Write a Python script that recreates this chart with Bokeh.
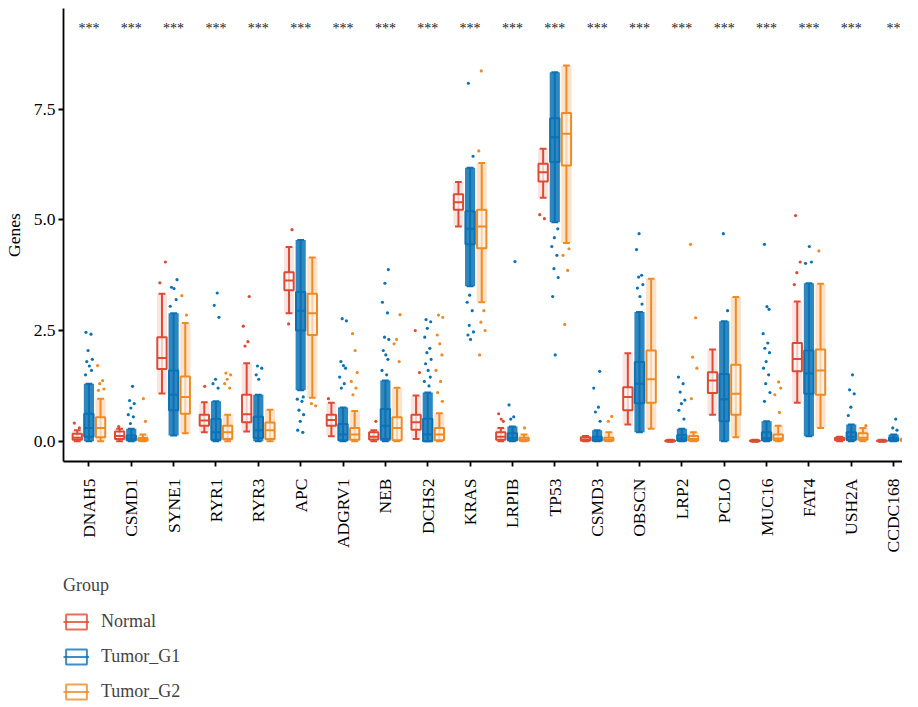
import math
from bokeh.plotting import figure
from bokeh.layouts import column
from bokeh.models import (Range1d, FixedTicker, PrintfTickFormatter, Legend,
                          LegendItem, ColumnDataSource)
from bokeh.core.properties import value
from bokeh.embed import file_html
from bokeh.resources import INLINE

# ---------------- data ----------------
genes = ["DNAH5", "CSMD1", "SYNE1", "RYR1", "RYR3", "APC", "ADGRV1", "NEB",
         "DCHS2", "KRAS", "LRPIB", "TP53", "CSMD3", "OBSCN", "LRP2", "PCLO",
         "MUC16", "FAT4", "USH2A", "CCDC168"]
signif = ["***"] * 19 + ["**"]
groups = ["Normal", "Tumor_G1", "Tumor_G2"]
colors = ["#DE4A33", "#0B72B5", "#EF8A25"]
y_ticks = [0.0, 2.5, 5.0, 7.5]

# Normal: lower whisker, Q1, median, Q3, upper whisker
normal_lo  = [0.00, 0.00, 1.08, 0.20, 0.22, 2.89, 0.11, 0.00, 0.05, 4.85, 0.00, 5.50, 0.00, 0.38, -0.01, 0.60, -0.01, 0.87, 0.00, -0.01]
normal_q1  = [0.03, 0.05, 1.63, 0.35, 0.43, 3.41, 0.35, 0.04, 0.26, 5.23, 0.03, 5.87, 0.01, 0.70, 0.00, 1.09, 0.00, 1.58, 0.02, 0.00]
normal_med = [0.08, 0.12, 1.88, 0.47, 0.61, 3.63, 0.48, 0.10, 0.43, 5.40, 0.10, 6.08, 0.04, 1.00, 0.00, 1.37, 0.00, 1.86, 0.05, 0.00]
normal_q3  = [0.17, 0.22, 2.35, 0.60, 1.05, 3.82, 0.60, 0.20, 0.60, 5.58, 0.20, 6.27, 0.09, 1.22, 0.02, 1.56, 0.02, 2.22, 0.08, 0.02]
normal_hi  = [0.25, 0.28, 3.33, 0.88, 1.76, 4.39, 0.87, 0.25, 1.03, 5.86, 0.30, 6.61, 0.12, 1.99, 0.03, 2.07, 0.03, 3.16, 0.10, 0.03]
normal_out = [[0.41, 0.30], [0.33], [4.05, 3.58], [1.24], [3.27, 2.60, 2.25, 2.15],
              [4.78, 2.65], [0.96], [0.45], [2.50, 1.55], [], [0.62, 0.50, 0.45],
              [5.12, 5.03], [], [], [], [], [], [5.10, 4.05, 3.81, 3.54], [], []]

# Tumor_G1
g1_lo  = [0.00, 0.00, 0.13, 0.00, 0.00, 1.15, 0.00, 0.00, 0.00, 3.50, 0.00, 4.95, 0.00, 0.20, 0.00, 0.00, 0.00, 0.11, 0.00, 0.00]
g1_q1  = [0.10, 0.02, 0.70, 0.03, 0.07, 2.50, 0.02, 0.05, 0.00, 4.45, 0.02, 6.31, 0.01, 0.86, 0.01, 0.45, 0.02, 1.07, 0.03, 0.01]
g1_med = [0.30, 0.06, 1.05, 0.20, 0.25, 2.95, 0.15, 0.35, 0.15, 4.80, 0.08, 6.87, 0.04, 1.30, 0.06, 0.95, 0.07, 1.53, 0.10, 0.03]
g1_q3  = [0.62, 0.13, 1.60, 0.50, 0.55, 3.37, 0.39, 0.73, 0.51, 5.20, 0.18, 7.30, 0.10, 1.79, 0.14, 1.52, 0.20, 2.05, 0.20, 0.08]
g1_hi  = [1.30, 0.28, 2.89, 0.90, 1.05, 4.55, 0.76, 1.37, 1.10, 6.18, 0.33, 8.34, 0.25, 2.92, 0.28, 2.71, 0.45, 3.57, 0.38, 0.15]
g1_out = [[2.46, 2.42, 2.05, 1.85, 1.80, 1.70, 1.60, 1.50],
          [1.24, 0.92, 0.85, 0.75, 0.60, 0.55, 0.40],
          [3.65, 3.48, 3.45, 3.20, 3.05],
          [3.35, 3.07, 2.80, 1.40, 1.30, 1.20],
          [1.70, 1.65, 1.50, 1.40],
          [1.00, 0.95, 0.90, 0.70, 0.60, 0.45, 0.25, 0.20],
          [2.77, 2.72, 1.80, 1.71, 1.65, 1.45, 1.30, 1.20],
          [3.88, 3.57, 3.14, 2.90, 2.35, 2.30, 2.05, 1.95, 1.85, 1.60, 1.50],
          [2.75, 2.70, 2.55, 2.35, 2.10, 2.00, 1.85, 1.75, 1.60, 1.45, 1.35, 1.25],
          [8.09, 6.44, 3.30, 3.14, 2.95, 2.62, 2.47, 2.40, 2.30],
          [4.06, 0.82, 0.55, 0.50],
          [4.80, 4.60, 4.40, 4.20, 3.90, 3.70, 3.27, 1.95],
          [1.58, 1.20, 0.77, 0.66, 0.45],
          [4.69, 4.33, 3.75, 3.71, 3.54, 3.46, 3.27, 3.10],
          [1.45, 1.30, 1.11, 0.93, 0.85, 0.70, 0.50],
          [4.69, 2.95],
          [4.45, 3.04, 2.98, 2.43, 2.22, 2.10, 2.00, 1.80, 1.65, 1.50, 1.30, 1.10, 0.90],
          [4.40, 4.05, 4.02],
          [1.50, 1.16, 1.07, 0.77, 0.58],
          [0.50, 0.30, 0.25]]

# Tumor_G2
g2_lo  = [0.00, 0.00, 0.18, 0.00, 0.00, 0.98, 0.00, 0.00, 0.00, 3.14, 0.00, 4.48, 0.00, 0.28, 0.00, 0.09, 0.00, 0.30, 0.00, 0.00]
g2_q1  = [0.09, 0.01, 0.62, 0.05, 0.05, 2.40, 0.03, 0.02, 0.02, 4.36, 0.01, 6.23, 0.01, 0.87, 0.01, 0.60, 0.02, 1.05, 0.03, 0.01]
g2_med = [0.30, 0.03, 1.00, 0.20, 0.25, 2.89, 0.15, 0.30, 0.15, 4.85, 0.03, 6.95, 0.03, 1.40, 0.05, 1.07, 0.06, 1.60, 0.08, 0.02]
g2_q3  = [0.54, 0.07, 1.46, 0.35, 0.42, 3.33, 0.30, 0.54, 0.30, 5.23, 0.08, 7.42, 0.08, 2.05, 0.12, 1.73, 0.15, 2.07, 0.18, 0.05]
g2_hi  = [0.96, 0.15, 2.67, 0.60, 0.71, 4.15, 0.68, 1.21, 0.63, 6.29, 0.15, 8.49, 0.20, 3.67, 0.20, 3.26, 0.35, 3.56, 0.30, 0.10]
g2_out = [[1.71, 1.37, 1.30, 1.18, 1.15], [0.96, 0.45], [3.29, 2.85],
          [1.54, 1.50, 1.40, 1.30, 1.20], [], [0.85, 0.80],
          [2.43, 2.05, 1.55, 1.35, 1.20, 1.05], [2.86, 2.30, 2.20, 1.80],
          [2.85, 2.80, 2.40, 2.20, 1.95, 1.60, 1.35, 1.10, 0.90],
          [8.37, 6.56, 2.95, 2.69, 2.50, 1.95], [0.30], [4.35, 4.20, 3.86, 2.64],
          [0.56, 0.45], [], [4.45, 2.79, 1.90, 1.65, 0.96], [],
          [1.34, 1.20, 1.05, 0.65], [4.30], [0.35], [0.33]]

stats = [
    (normal_lo, normal_q1, normal_med, normal_q3, normal_hi, normal_out),
    (g1_lo, g1_q1, g1_med, g1_q3, g1_hi, g1_out),
    (g2_lo, g2_q1, g2_med, g2_q3, g2_hi, g2_out),
]

# ---------------- styling ----------------
FONT = "Liberation Serif"
offsets = [-0.275, 0.0, 0.275]
box_w, cap_w, cloud_w = 0.22, 0.16, 0.24
cloud_alpha = [0.15, 0.85, 0.25]
box_fill_alpha = [0.7, 0.0, 0.6]
jit = [-0.07, 0.05, -0.02, 0.08, -0.05, 0.01, 0.06, -0.08, 0.03, -0.04, 0.07, -0.01]

p = figure(width=902, height=568,
           x_range=Range1d(-0.6, 19.21), y_range=Range1d(-0.459, 9.78),
           output_backend="svg", toolbar_location=None,
           min_border_left=57, min_border_right=0, min_border_top=8,
           min_border_bottom=107)
p.xgrid.visible = False
p.ygrid.visible = False
p.outline_line_color = None

n = len(genes)
for g, (lo, q1, med, q3, hi, extra) in enumerate(stats):
    col = colors[g]
    xs = [i + offsets[g] for i in range(n)]
    src = ColumnDataSource(dict(
        x=xs, lo=lo, q1=q1, med=med, q3=q3, hi=hi,
        bl=[x - box_w / 2 for x in xs], br=[x + box_w / 2 for x in xs],
        cl=[x - cap_w / 2 for x in xs], cr=[x + cap_w / 2 for x in xs],
        jl=[x - cloud_w / 2 for x in xs], jr=[x + cloud_w / 2 for x in xs]))
    # dense jittered cloud of samples
    p.quad(left="jl", right="jr", bottom="lo", top="hi", source=src,
           fill_color=col, fill_alpha=cloud_alpha[g], line_color=None)
    # whiskers + caps
    p.segment(x0="x", y0="lo", x1="x", y1="hi", source=src, line_color=col, line_width=2)
    p.segment(x0="cl", y0="lo", x1="cr", y1="lo", source=src, line_color=col, line_width=2)
    p.segment(x0="cl", y0="hi", x1="cr", y1="hi", source=src, line_color=col, line_width=2)
    # box + median
    p.quad(left="bl", right="br", bottom="q1", top="q3", source=src,
           fill_color="white", fill_alpha=box_fill_alpha[g],
           line_color=col, line_width=2)
    p.segment(x0="bl", y0="med", x1="br", y1="med", source=src,
              line_color=col, line_width=2)
    # extreme points
    ox, oy = [], []
    k = 0
    for i, vals in enumerate(extra):
        for v in vals:
            ox.append(i + offsets[g] + jit[k % len(jit)])
            oy.append(v)
            k += 1
    p.scatter(ox, oy, size=3.2, fill_color=col, line_color=None)

# significance stars
p.text(x=list(range(n)), y=[9.4] * n, text=signif, text_align="center",
       text_baseline="middle", text_font=value(FONT), text_font_size="14px",
       text_color="#222222", y_offset=3)

# axes
xa = p.xaxis[0]
xa.ticker = FixedTicker(ticks=list(range(n)))
xa.major_label_overrides = {i: gname for i, gname in enumerate(genes)}
xa.major_label_orientation = math.pi / 2
xa.minor_tick_line_color = None
xa.major_tick_out = 5
xa.major_tick_in = 0
xa.axis_line_width = 1.8
xa.major_tick_line_width = 1.8
xa.major_label_text_font = FONT
xa.major_label_text_font_size = "17.5px"
xa.major_label_text_color = "black"
xa.major_label_standoff = 12

ya = p.yaxis[0]
ya.ticker = FixedTicker(ticks=y_ticks)
ya.formatter = PrintfTickFormatter(format="%.1f")
ya.minor_tick_line_color = None
ya.major_tick_out = 5
ya.major_tick_in = 0
ya.axis_line_width = 1.8
ya.major_tick_line_width = 1.8
ya.major_label_text_font = FONT
ya.major_label_text_font_size = "17.5px"
ya.major_label_text_color = "black"
ya.major_label_standoff = 3
ya.axis_label = "Genes"
ya.axis_label_text_font = FONT
ya.axis_label_text_font_size = "17.5px"
ya.axis_label_text_font_style = "normal"
ya.axis_label_text_color = "black"
ya.axis_label_standoff = 7

# ---------------- legend panel ----------------
leg = figure(width=902, height=134, x_range=Range1d(0, 1), y_range=Range1d(0, 1),
             x_axis_type=None, y_axis_type=None, output_backend="svg",
             toolbar_location=None, min_border=0)
leg.outline_line_color = None
leg.xgrid.visible = False
leg.ygrid.visible = False
nan = float("nan")
items = []
for g, name in enumerate(groups):
    key_src = ColumnDataSource(dict(l=[nan], r=[nan], b=[nan], t=[nan], m=[nan]))
    rb = leg.quad(left="l", right="r", bottom="b", top="t", source=key_src,
                  fill_color="white", fill_alpha=1.0, line_color=colors[g],
                  line_width=2, line_alpha=0.8)
    rm = leg.segment(x0="l", y0="m", x1="r", y1="m", source=key_src,
                     line_color=colors[g], line_width=2, line_alpha=0.8)
    items.append(LegendItem(label=name, renderers=[rb, rm]))

legend = Legend(items=items, location=(0, 0), title="Group",
                orientation="vertical", glyph_width=26, glyph_height=19,
                label_height=19, spacing=14, padding=0, margin=0,
                label_standoff=12, border_line_color=None,
                background_fill_alpha=0,
                label_text_font=FONT, label_text_font_size="18px",
                title_text_font=FONT, title_text_font_size="18px",
                title_text_font_style="normal", title_standoff=15)
leg.add_layout(legend)

layout = column(p, leg, spacing=0)
open("out.html", "w").write(file_html(layout, INLINE))
